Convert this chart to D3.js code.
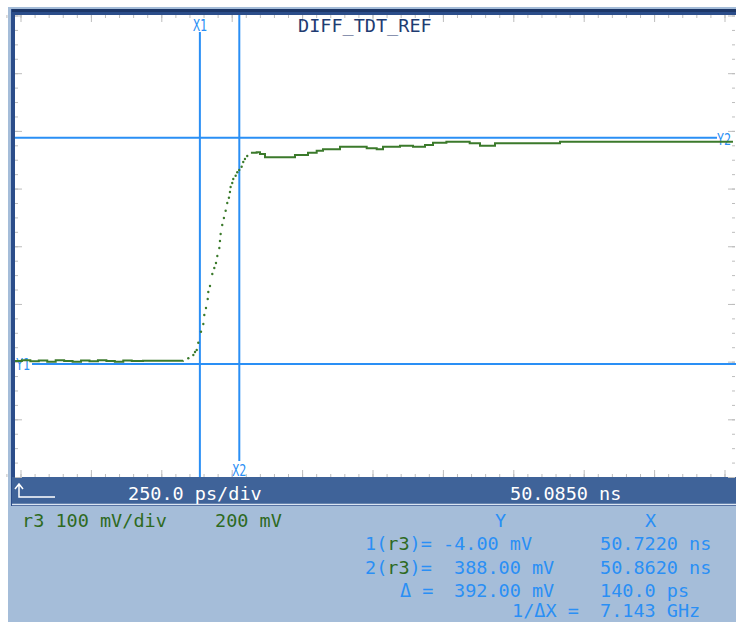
<!DOCTYPE html>
<html>
<head>
<meta charset="utf-8">
<script src="https://cdn.jsdelivr.net/npm/d3@7"></script>
<style>
  body { margin: 0; background: #fff; }
  text { font-family: "DejaVu Sans Mono", monospace; }
</style>
</head>
<body>
<div id="vis-holder"></div>
<script>
// Scope settings
const title = "DIFF_TDT_REF";
const psPerDiv = 250.0;
const startNs = 50.0850;
const mvPerDiv = 100;
const offsetMv = 200;
const channel = "r3";

// Cursors (X in ns, Y in mV)
const cursorXNs = [50.7220, 50.8620];
const cursorYMv = [-4.00, 388.00];
const readY = ["-4.00 mV", "388.00 mV"];
const readX = ["50.7220 ns", "50.8620 ns"];
const deltaY = "392.00 mV";
const deltaX = "140.0 ps";
const invDeltaX = "7.143 GHz";

// Trace, part 1: flat baseline before the edge
const baseT = [50.0655, 50.090, 50.120, 50.150, 50.180, 50.210, 50.240, 50.270, 50.300, 50.330,
               50.360, 50.390, 50.420, 50.450, 50.480, 50.520, 50.580, 50.6621];
const baseV = [1, 2.5, 0.5, 2, 0, 2.5, 1, 0, 2, 0.5, 2.5, 1, 0, 2, 1, 1.5, 1.5, 2];

// Trace, part 2: rising edge (single samples, drawn as dots)
const edgeT = [50.6809, 50.6987, 50.7047, 50.7108, 50.7164, 50.7260, 50.7342, 50.7377, 50.7437, 50.7498,
               50.7519, 50.7579, 50.7661, 50.7732, 50.7792, 50.7839, 50.7910, 50.7933, 50.7957, 50.8014,
               50.8074, 50.8135, 50.8192, 50.8252, 50.8288, 50.8312, 50.8369, 50.8405, 50.8490, 50.8547,
               50.8618, 50.8703, 50.8760, 50.8820, 50.8902];
const edgeV = [5.8, 11.5, 16.7, 20.2, 32.8, 51.9, 65.2, 80.8, 93.0, 108.6,
               120.7, 131.1, 151.9, 162.3, 171.0, 183.1, 197.0, 209.1, 221.2, 236.8,
               249.0, 261.6, 275.0, 284.2, 294.0, 302.7, 309.6, 316.6, 322.3, 328.2,
               332.2, 337.9, 346.0, 351.2, 356.4];

// Trace, part 3: overshoot and settling
const settleT = [50.9033, 50.9237, 50.9354, 50.9532, 51.0480, 51.0597, 51.1059, 51.1368, 51.1592, 51.2195,
                 51.2789, 51.3144, 51.3499, 51.3723, 51.4327, 51.4788, 51.5215, 51.5499, 51.5974, 51.6801,
                 51.7167, 51.7700, 52.0008, 52.6151];
const settleV = [362.2, 362.9, 359.9, 354.2, 354.2, 358.2, 362.2, 365.6, 368.1, 372.6,
                 372.6, 369.8, 368.1, 372.6, 374.3, 372.6, 375.5, 379.5, 381.2, 378.5,
                 374.3, 378.5, 381.2, 381.2];

// Colours
const cursorBlue = "#2a8ff5";
const traceGreen = "#3b7a2b";
const navy = "#1f3c72";
const barBlue = "#3f6399";
const panelBlue = "#a5bdd9";

// Screen layout
const width = 736;
const height = 622;
const plot = { left: 15, top: 15, right: 736, bottom: 477 };

const svg = d3.select("#vis-holder")
              .append("svg")
              .attr("width", width)
              .attr("height", height);

// Frame and panels
svg.append("rect").attr("x", 8).attr("y", 7).attr("width", width - 8).attr("height", height - 7)
   .attr("fill", panelBlue);
svg.append("rect").attr("x", 11).attr("y", 9).attr("width", width - 11).attr("height", 497)
   .attr("fill", "#2b4d8a");
svg.append("rect").attr("x", 12).attr("y", 9).attr("width", width - 12).attr("height", 3)
   .attr("fill", "#1d3768");
svg.append("rect").attr("x", plot.left).attr("y", plot.top)
   .attr("width", plot.right - plot.left).attr("height", plot.bottom - plot.top)
   .attr("fill", "#fff");
svg.append("rect").attr("x", 12).attr("y", plot.bottom).attr("width", width - 12).attr("height", 27)
   .attr("fill", barBlue);
svg.append("line").attr("x1", 12).attr("x2", width).attr("y1", 504.5).attr("y2", 504.5)
   .attr("stroke", "#dbe5f2").attr("stroke-width", 1.5);

// Scales: 10 horizontal divisions, 8 vertical divisions
const x = d3.scaleLinear()
            .domain([startNs, startNs + 10 * psPerDiv / 1000])
            .range([20.5, 724.5]);
const y = d3.scaleLinear()
            .domain([offsetMv - 4 * mvPerDiv, offsetMv + 4 * mvPerDiv])
            .range([plot.bottom, 15.5]);

// Graticule ticks along the edges
const xMinor = d3.range(-1, 51).map(i => startNs + i * psPerDiv / 5000);
const xMajor = d3.range(0, 11).map(i => startNs + i * psPerDiv / 1000);
const yMinor = d3.range(-200, 601, 25);
const yMajor = d3.range(-200, 601, 100);

function tickAxis(axis, values, size, tx, ty) {
  const g = svg.append("g")
               .attr("transform", `translate(${tx},${ty})`)
               .call(axis.tickValues(values).tickSize(-size).tickFormat(""));
  g.select(".domain").remove();
  g.selectAll("line").attr("stroke", "#bdbdbd");
}
tickAxis(d3.axisTop(x), xMinor, 3, 0, plot.top);
tickAxis(d3.axisTop(x), xMajor, 7, 0, plot.top);
tickAxis(d3.axisBottom(x), xMinor, 3, 0, plot.bottom);
tickAxis(d3.axisBottom(x), xMajor, 7, 0, plot.bottom);
tickAxis(d3.axisLeft(y), yMinor, 3, plot.left, 0);
tickAxis(d3.axisLeft(y), yMajor, 7, plot.left, 0);
tickAxis(d3.axisRight(y), yMinor, 3, 735, 0);
tickAxis(d3.axisRight(y), yMajor, 7, 735, 0);

// Clip everything inside the screen
svg.append("clipPath").attr("id", "screen")
   .append("rect").attr("x", plot.left).attr("y", plot.top)
   .attr("width", plot.right - plot.left).attr("height", plot.bottom - plot.top);
const screen = svg.append("g").attr("clip-path", "url(#screen)");

// Title
screen.append("text")
      .attr("x", 298).attr("y", 32)
      .attr("font-size", 18.5).attr("fill", navy)
      .text(title);

// Cursor lines
const x1 = x(cursorXNs[0]), x2 = x(cursorXNs[1]);
const y1 = y(cursorYMv[0]), y2 = y(cursorYMv[1]);
screen.append("line").attr("x1", x1).attr("x2", x1).attr("y1", 32).attr("y2", plot.bottom)
      .attr("stroke", cursorBlue).attr("stroke-width", 2);
screen.append("line").attr("x1", x2).attr("x2", x2).attr("y1", plot.top).attr("y2", 461)
      .attr("stroke", cursorBlue).attr("stroke-width", 2);
screen.append("line").attr("x1", 32).attr("x2", plot.right).attr("y1", y1).attr("y2", y1)
      .attr("stroke", cursorBlue).attr("stroke-width", 2);
screen.append("line").attr("x1", plot.left).attr("x2", 717).attr("y1", y2).attr("y2", y2)
      .attr("stroke", cursorBlue).attr("stroke-width", 2);

// Cursor labels
function cursorLabel(txt, cx, baseY) {
  screen.append("text")
        .attr("x", cx).attr("y", baseY)
        .attr("font-size", 16).attr("fill", cursorBlue)
        .attr("textLength", 14).attr("lengthAdjust", "spacingAndGlyphs")
        .text(txt);
}
cursorLabel("X1", x1 - 7, 31);
cursorLabel("X2", x2 - 7, 476);
cursorLabel("Y1", 16, y1 + 6);
cursorLabel("Y2", 717, y2 + 7);

// Waveform
const stepLine = d3.line()
                   .x(d => x(d[0]))
                   .y(d => y(d[1]))
                   .curve(d3.curveStepAfter);

screen.append("path")
      .datum(d3.zip(baseT, baseV))
      .attr("d", stepLine)
      .attr("fill", "none").attr("stroke", traceGreen).attr("stroke-width", 2);

screen.append("path")
      .datum(d3.zip(settleT, settleV))
      .attr("d", stepLine)
      .attr("fill", "none").attr("stroke", traceGreen).attr("stroke-width", 2);

screen.selectAll("circle.edge")
      .data(d3.zip(edgeT, edgeV))
      .enter()
        .append("circle")
        .attr("class", "edge")
        .attr("cx", d => x(d[0]))
        .attr("cy", d => y(d[1]))
        .attr("r", 1.2)
        .attr("fill", traceGreen);

// Bottom bar: trigger arrow, timebase, position
svg.append("path")
   .attr("d", "M19,485 L19,497 L55,497 M15,489 L19,484 L23,489")
   .attr("fill", "none").attr("stroke", "#fff").attr("stroke-width", 1.5);
svg.append("text").attr("x", 128).attr("y", 500).attr("font-size", 18.5).attr("fill", "#fff")
   .text(`${psPerDiv.toFixed(1)} ps/div`);
svg.append("text").attr("x", 510).attr("y", 500).attr("font-size", 18.5).attr("fill", "#fff")
   .text(`${startNs.toFixed(4)} ns`);

// Channel settings
svg.append("text").attr("x", 22).attr("y", 527).attr("font-size", 18.5).attr("fill", "#2e6a1f")
   .text(`${channel} ${mvPerDiv} mV/div`);
svg.append("text").attr("x", 215).attr("y", 527).attr("font-size", 18.5).attr("fill", "#2e6a1f")
   .text(`${offsetMv} mV`);

// Cursor readout
function readout(txt, tx, ty) {
  return svg.append("text").attr("x", tx).attr("y", ty)
            .attr("font-size", 18.5).attr("fill", cursorBlue).text(txt);
}
readout("Y", 495, 527);
readout("X", 645, 527);
[0, 1].forEach(i => {
  const row = 550 + i * 23.5;
  const t = svg.append("text").attr("x", 365).attr("y", row)
               .attr("font-size", 18.5).attr("fill", cursorBlue);
  t.append("tspan").text(`${i + 1}(`);
  t.append("tspan").attr("fill", "#2e6a1f").text(channel);
  t.append("tspan").text(")=");
  readout(readY[i], i === 0 ? 443 : 454, row);
  readout(readX[i], 600, row);
});
readout("Δ =", 400, 596.5);
readout(deltaY, 454, 596.5);
readout(deltaX, 600, 596.5);
readout("1/ΔX =", 512, 617);
readout(invDeltaX, 600, 617);
</script>
</body>
</html>
